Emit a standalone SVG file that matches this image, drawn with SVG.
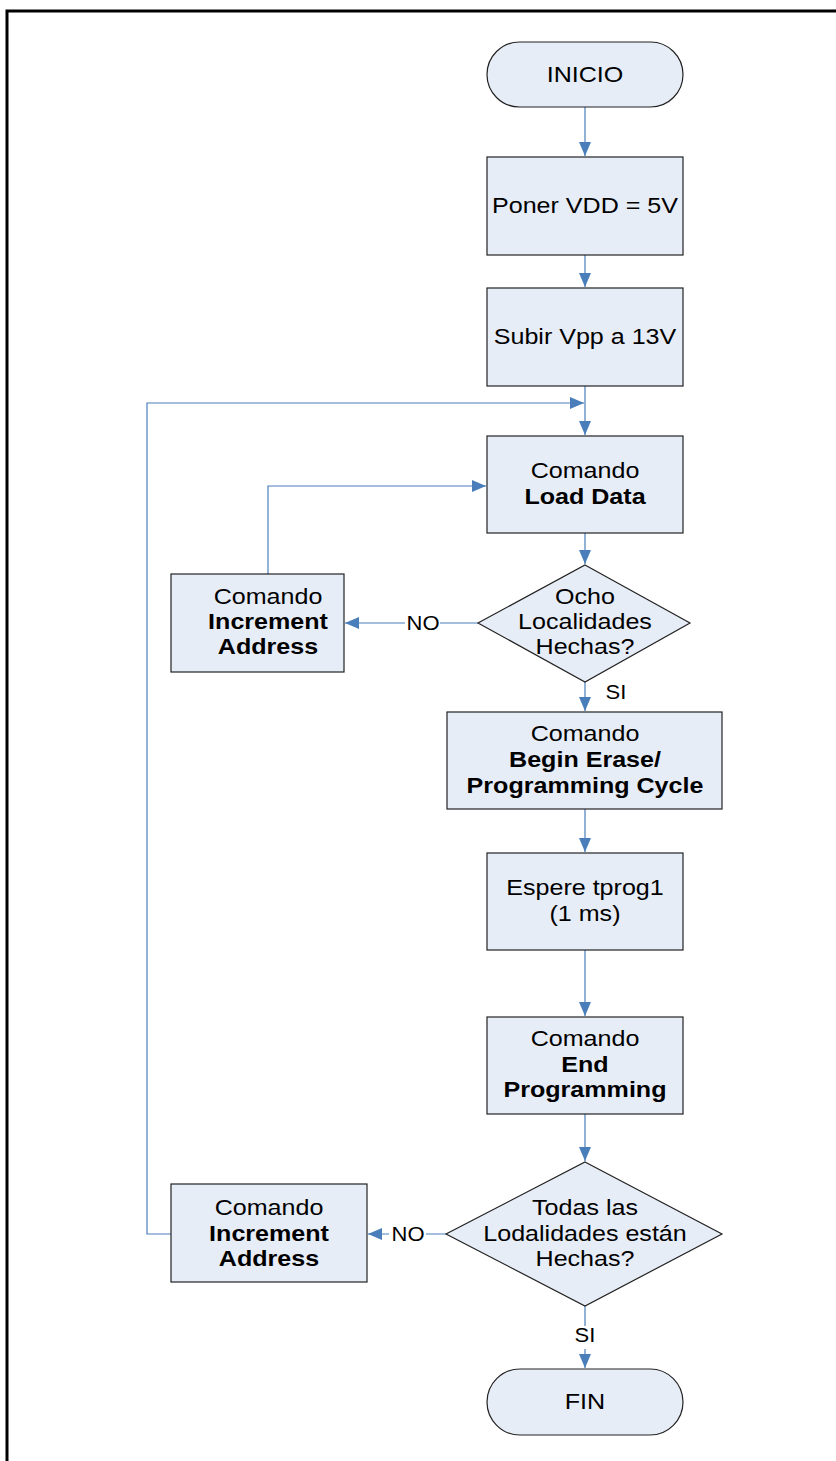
<svg xmlns="http://www.w3.org/2000/svg" width="836" height="1461" viewBox="0 0 836 1461">
  <style>
    .box { fill: #E7EDF7; stroke: #222; stroke-width: 1.2; }
    .t { font-family: "Liberation Sans", Arial, sans-serif; font-size: 22.8px; fill: #000; text-anchor: middle; }
    .b { font-weight: bold; }
    .lbl { font-family: "Liberation Sans", Arial, sans-serif; font-size: 20px; fill: #000; text-anchor: middle; }
    .wire { fill: none; stroke: #4A7EBB; stroke-width: 1.2; }
  </style>
  <defs>
    <marker id="arrow" viewBox="0 0 14 12" refX="14" refY="6" markerWidth="14" markerHeight="12" markerUnits="userSpaceOnUse" orient="auto">
      <path d="M0,0 L14,6 L0,12 Z" fill="#4A7EBB"/>
    </marker>
  </defs>

  <rect x="0" y="0" width="836" height="1461" fill="#fff"/>
  <!-- page frame -->
  <path d="M7,1461 V11 H836" fill="none" stroke="#000" stroke-width="3"/>

  <!-- connectors (text is stretched horizontally by 1.1) -->
  <g id="connectors">
    <path class="wire" d="M585,107 V156" marker-end="url(#arrow)"/>
    <path class="wire" d="M585,255 V287" marker-end="url(#arrow)"/>
    <path class="wire" d="M585,386 V435" marker-end="url(#arrow)"/>
    <path class="wire" d="M585,533 V564" marker-end="url(#arrow)"/>
    <path class="wire" d="M478,623 H440 M405,623 H345" marker-end="url(#arrow)"/>
    <path class="wire" d="M268,574 V486 H486" marker-end="url(#arrow)"/>
    <path class="wire" d="M585,682 V711" marker-end="url(#arrow)"/>
    <path class="wire" d="M585,809 V852" marker-end="url(#arrow)"/>
    <path class="wire" d="M585,950 V1016" marker-end="url(#arrow)"/>
    <path class="wire" d="M585,1114 V1161" marker-end="url(#arrow)"/>
    <path class="wire" d="M446,1234 H426 M389,1234 H368" marker-end="url(#arrow)"/>
    <path class="wire" d="M171,1234 H147 V403 H584" marker-end="url(#arrow)"/>
    <path class="wire" d="M585,1306 V1326 M585,1349 V1368" marker-end="url(#arrow)"/>
    <text class="lbl" transform="translate(423 630) scale(1.1 1)">NO</text>
    <text class="lbl" transform="translate(408 1241) scale(1.1 1)">NO</text>
    <text class="lbl" transform="translate(616 699) scale(1.1 1)">SI</text>
    <text class="lbl" transform="translate(585 1342) scale(1.1 1)">SI</text>
  </g>

  <g id="inicio">
    <rect class="box" x="487" y="42" width="196" height="65" rx="32.5" ry="32.5"/>
    <text class="t" transform="translate(585 82) scale(1.1 1)">INICIO</text>
  </g>

  <g id="poner-vdd">
    <rect class="box" x="487" y="157" width="196" height="98"/>
    <text class="t" transform="translate(585 213) scale(1.1 1)">Poner VDD = 5V</text>
  </g>

  <g id="subir-vpp">
    <rect class="box" x="487" y="288" width="196" height="98"/>
    <text class="t" transform="translate(585 344) scale(1.1 1)">Subir Vpp a 13V</text>
  </g>

  <g id="load-data">
    <rect class="box" x="487" y="436" width="196" height="97"/>
    <text class="t" transform="translate(585 478) scale(1.1 1)">Comando</text>
    <text class="t b" transform="translate(585 504) scale(1.1 1)">Load Data</text>
  </g>

  <g id="ocho-localidades">
    <polygon class="box" points="585,565 690,623 585,682 478,623"/>
    <text class="t" transform="translate(585 604) scale(1.1 1)">Ocho</text>
    <text class="t" transform="translate(585 629) scale(1.1 1)">Localidades</text>
    <text class="t" transform="translate(585 654) scale(1.1 1)">Hechas?</text>
  </g>

  <g id="increment-1">
    <rect class="box" x="171" y="574" width="173" height="98"/>
    <text class="t" transform="translate(268 604) scale(1.1 1)">Comando</text>
    <text class="t b" transform="translate(268 629) scale(1.1 1)">Increment</text>
    <text class="t b" transform="translate(268 654) scale(1.1 1)">Address</text>
  </g>

  <g id="begin-erase">
    <rect class="box" x="447" y="712" width="275" height="97"/>
    <text class="t" transform="translate(585 741) scale(1.1 1)">Comando</text>
    <text class="t b" transform="translate(585 767) scale(1.1 1)">Begin Erase/</text>
    <text class="t b" transform="translate(585 793) scale(1.1 1)">Programming Cycle</text>
  </g>

  <g id="espere">
    <rect class="box" x="487" y="853" width="196" height="97"/>
    <text class="t" transform="translate(585 895) scale(1.1 1)">Espere tprog1</text>
    <text class="t" transform="translate(585 921) scale(1.1 1)">(1 ms)</text>
  </g>

  <g id="end-programming">
    <rect class="box" x="487" y="1017" width="196" height="97"/>
    <text class="t" transform="translate(585 1046) scale(1.1 1)">Comando</text>
    <text class="t b" transform="translate(585 1072) scale(1.1 1)">End</text>
    <text class="t b" transform="translate(585 1097) scale(1.1 1)">Programming</text>
  </g>

  <g id="todas-localidades">
    <polygon class="box" points="585,1162 722,1234 585,1306 446,1234"/>
    <text class="t" transform="translate(585 1215) scale(1.1 1)">Todas las</text>
    <text class="t" transform="translate(585 1241) scale(1.1 1)">Lodalidades están</text>
    <text class="t" transform="translate(585 1266) scale(1.1 1)">Hechas?</text>
  </g>

  <g id="increment-2">
    <rect class="box" x="171" y="1184" width="196" height="98"/>
    <text class="t" transform="translate(269 1215) scale(1.1 1)">Comando</text>
    <text class="t b" transform="translate(269 1241) scale(1.1 1)">Increment</text>
    <text class="t b" transform="translate(269 1266) scale(1.1 1)">Address</text>
  </g>

  <g id="fin">
    <rect class="box" x="487" y="1369" width="196" height="66" rx="33" ry="33"/>
    <text class="t" transform="translate(585 1409) scale(1.1 1)">FIN</text>
  </g>
</svg>
